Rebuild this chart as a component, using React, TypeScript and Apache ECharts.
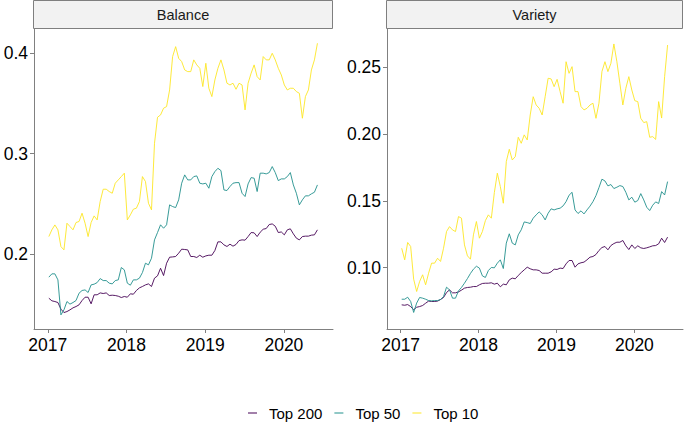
import React, { useEffect, useRef } from "react";
import * as echarts from "echarts";

// Biweekly observation dates starting 2017-01-06
const START = Date.UTC(2017, 0, 6);
const N_POINTS = 90;
const dates: string[] = Array.from({ length: N_POINTS }, (_, i) =>
  new Date(START + i * 14 * 86400000).toISOString().slice(0, 10)
);

const seriesNames = ["Top 200", "Top 50", "Top 10"];
const seriesColors = ["#440154", "#21908C", "#FDE725"];
const facetTitles = ["Balance", "Variety"];
const xTicks = [2017, 2018, 2019, 2020];
const balanceTicks = [0.2, 0.3, 0.4];
const varietyTicks = [0.1, 0.15, 0.2, 0.25];

const balanceTop200 = [
  0.1557, 0.1531, 0.1524, 0.1514, 0.1448, 0.1414, 0.1424, 0.1441, 0.1461, 0.1474,
  0.1491, 0.1534, 0.1567, 0.1567, 0.1501, 0.1591, 0.1591, 0.161, 0.1604, 0.161,
  0.1584, 0.1587, 0.1584, 0.1577, 0.1564, 0.1574, 0.1567, 0.1601, 0.1597, 0.1634,
  0.166, 0.1674, 0.169, 0.17, 0.1674, 0.1757, 0.178, 0.1856, 0.1783, 0.1906,
  0.1966, 0.1969, 0.1973, 0.2006, 0.2046, 0.2043, 0.2039, 0.1973, 0.1973, 0.1963,
  0.1986, 0.1966, 0.1979, 0.1986, 0.1986, 0.2033, 0.2119, 0.2119, 0.2089, 0.2073,
  0.2096, 0.2076, 0.2093, 0.2132, 0.2139, 0.2136, 0.2172, 0.2212, 0.2209, 0.2172,
  0.2215, 0.2245, 0.2252, 0.2292, 0.2298, 0.2275, 0.2212, 0.2218, 0.2189, 0.2239,
  0.2249, 0.2199, 0.2156, 0.2139, 0.2172, 0.2176, 0.2176, 0.2186, 0.2189, 0.2239,
];
const balanceTop50 = [
  0.1767, 0.18, 0.18, 0.174, 0.1391, 0.1441, 0.1524, 0.1498, 0.1514, 0.1534,
  0.1607, 0.1634, 0.164, 0.1614, 0.169, 0.1697, 0.1713, 0.1753, 0.1733, 0.1733,
  0.1707, 0.17, 0.1733, 0.174, 0.1863, 0.184, 0.1707, 0.1687, 0.174, 0.174,
  0.1757, 0.1813, 0.1906, 0.189, 0.1956, 0.2139, 0.2212, 0.2289, 0.2255, 0.2289,
  0.2488, 0.2471, 0.2461, 0.2538, 0.2704, 0.2787, 0.2737, 0.2737, 0.277, 0.2777,
  0.2704, 0.2697, 0.2704, 0.2654, 0.277, 0.282, 0.2853, 0.283, 0.2637, 0.2631,
  0.2671, 0.2704, 0.271, 0.271, 0.2604, 0.2571, 0.2697, 0.276, 0.2754, 0.2621,
  0.2804, 0.2804, 0.2797, 0.281, 0.287, 0.281, 0.273, 0.2747, 0.2747, 0.277,
  0.281, 0.2687, 0.2604, 0.2488, 0.2538, 0.2578, 0.2578, 0.2598, 0.2614, 0.2687,
];
const balanceTop10 = [
  0.2172, 0.2239, 0.2288, 0.2239, 0.2072, 0.2039, 0.2305, 0.2272, 0.2239, 0.2312,
  0.2322, 0.2405, 0.2305, 0.2172, 0.2312, 0.2378, 0.2338, 0.2521, 0.2644, 0.2644,
  0.2621, 0.2604, 0.2704, 0.2737, 0.277, 0.2804, 0.2338, 0.2388, 0.2445, 0.2455,
  0.2521, 0.277, 0.2721, 0.2504, 0.2438, 0.3103, 0.3362, 0.3385, 0.3452, 0.3468,
  0.3634, 0.3967, 0.4066, 0.395, 0.3917, 0.3834, 0.3817, 0.3817, 0.3934, 0.3884,
  0.385, 0.3668, 0.39, 0.3651, 0.3568, 0.3734, 0.385, 0.3934, 0.3834, 0.3701,
  0.3684, 0.3701, 0.3641, 0.3701, 0.3684, 0.3435, 0.3701, 0.3801, 0.3884, 0.3767,
  0.3734, 0.3967, 0.3934, 0.3934, 0.4, 0.3934, 0.385, 0.3784, 0.3684, 0.3634,
  0.3651, 0.3651, 0.3618, 0.3601, 0.3352, 0.3568, 0.3634, 0.3834, 0.3934, 0.41,
];
const varietyTop200 = [
  0.0721, 0.0718, 0.0723, 0.0708, 0.0684, 0.0703, 0.0708, 0.0716, 0.0733, 0.0749,
  0.0746, 0.0746, 0.0749, 0.0761, 0.0776, 0.0813, 0.0833, 0.0811, 0.0811, 0.0818,
  0.0831, 0.0846, 0.0851, 0.0853, 0.0858, 0.0858, 0.0871, 0.0881, 0.0883, 0.0883,
  0.0886, 0.0876, 0.0883, 0.0856, 0.0876, 0.0871, 0.0908, 0.0921, 0.0916, 0.0941,
  0.0963, 0.0983, 0.1003, 0.0991, 0.0983, 0.0983, 0.0978, 0.0958, 0.0958, 0.0958,
  0.0968, 0.0988, 0.0986, 0.0996, 0.0993, 0.1028, 0.1053, 0.1053, 0.1003, 0.1028,
  0.1036, 0.1041, 0.1058, 0.1078, 0.1083, 0.1098, 0.1128, 0.115, 0.1158, 0.1133,
  0.1165, 0.118, 0.119, 0.119, 0.1203, 0.1163, 0.1135, 0.117, 0.1143, 0.1163,
  0.1148, 0.1143, 0.1148, 0.1155, 0.1163, 0.1165, 0.1178, 0.122, 0.1188, 0.1228,
];
const varietyTop50 = [
  0.0763, 0.0763, 0.0778, 0.0746, 0.0664, 0.0734, 0.0776, 0.0771, 0.0763, 0.0753,
  0.0751, 0.0753, 0.0753, 0.0761, 0.0783, 0.0853, 0.0833, 0.0771, 0.0771, 0.0826,
  0.0851, 0.0883, 0.0918, 0.0956, 0.0988, 0.101, 0.0996, 0.0938, 0.0926, 0.0978,
  0.1001, 0.0998, 0.1033, 0.1058, 0.0993, 0.1183, 0.1253, 0.1183, 0.117, 0.1245,
  0.1283, 0.1342, 0.1337, 0.133, 0.137, 0.1395, 0.1417, 0.1395, 0.1357, 0.1407,
  0.144, 0.1432, 0.144, 0.1445, 0.1462, 0.1494, 0.1542, 0.1564, 0.1432, 0.1405,
  0.1425, 0.1402, 0.1432, 0.146, 0.1494, 0.1539, 0.1599, 0.1662, 0.1649, 0.1612,
  0.1622, 0.1592, 0.1602, 0.1614, 0.1607, 0.1564, 0.1507, 0.1527, 0.149, 0.1502,
  0.1554, 0.1507, 0.1452, 0.1427, 0.1467, 0.1492, 0.148, 0.1569, 0.1544, 0.1644,
];
const varietyTop10 = [
  0.1145, 0.1058, 0.1188, 0.1158, 0.0913, 0.0821, 0.0896, 0.0946, 0.0871, 0.0958,
  0.1033, 0.1033, 0.107, 0.1046, 0.1145, 0.127, 0.1307, 0.1282, 0.127, 0.1382,
  0.137, 0.117, 0.1088, 0.1063, 0.1245, 0.1345, 0.122, 0.127, 0.1352, 0.1395,
  0.137, 0.1562, 0.1707, 0.1607, 0.1482, 0.1794, 0.1886, 0.1806, 0.1831, 0.1976,
  0.1931, 0.1994, 0.1956, 0.2143, 0.228, 0.2218, 0.2193, 0.2143, 0.228, 0.2418,
  0.2413, 0.2355, 0.241, 0.2318, 0.2231, 0.2542, 0.2455, 0.2505, 0.2318, 0.2318,
  0.2206, 0.2181, 0.2193, 0.2218, 0.2231, 0.2118, 0.2231, 0.2468, 0.2542, 0.2468,
  0.253, 0.2675, 0.2542, 0.238, 0.2218, 0.2343, 0.243, 0.233, 0.225, 0.2243,
  0.2118, 0.2086, 0.2093, 0.1976, 0.1981, 0.196, 0.2243, 0.212, 0.243, 0.2667,
];

function toDecimalYear(d: string): number {
  const ms = Date.parse(d + "T00:00:00Z");
  const y = new Date(ms).getUTCFullYear();
  const s = Date.UTC(y, 0, 1);
  const e = Date.UTC(y + 1, 0, 1);
  return y + (ms - s) / (e - s);
}

const FONT = "Liberation Sans, Arial, Helvetica, sans-serif";
const AXIS_COLOR = "#808080";

export default function App() {
  const ref = useRef<HTMLDivElement>(null);
  useEffect(() => {
    if (!ref.current) return;
    const chart = echarts.init(ref.current, null, { renderer: "svg" });
    const xs = dates.map(toDecimalYear);
    const pair = (vals: number[]) => vals.map((v, i) => [xs[i], v]);

    const panels = [
      { left: 34, width: 299, vals: [balanceTop200, balanceTop50, balanceTop10] },
      { left: 387, width: 296, vals: [varietyTop200, varietyTop50, varietyTop10] },
    ];

    const xAxisBase = (gi: number) => ({
      type: "value",
      gridIndex: gi,
      min: 2016.825,
      max: 2020.624,
      axisLine: { show: true, onZero: false, lineStyle: { color: AXIS_COLOR, width: 1 } },
      axisTick: { show: true, length: 4, customValues: xTicks, lineStyle: { color: AXIS_COLOR, width: 1 } },
      axisLabel: {
        customValues: xTicks,
        color: "#000",
        fontSize: 17.5,
        fontFamily: FONT,
        margin: 7,
        formatter: (v: number) => String(Math.round(v)),
      },
      splitLine: { show: false },
    });

    const series: any[] = [];
    panels.forEach((p, gi) => {
      p.vals.forEach((vals, si) => {
        series.push({
          type: "line",
          name: seriesNames[si],
          xAxisIndex: gi,
          yAxisIndex: gi,
          data: pair(vals),
          showSymbol: false,
          symbol: "none",
          color: seriesColors[si],
          lineStyle: { width: 0.9, color: seriesColors[si] },
          silent: true,
        });
      });
    });

    const graphic: any[] = [];
    panels.forEach((p, gi) => {
      graphic.push({
        type: "rect",
        shape: { x: p.left - 0.5, y: 0.5, width: p.width, height: 28 },
        style: { fill: "#F2F2F2", stroke: "#7f7f7f", lineWidth: 1 },
      });
      graphic.push({
        type: "text",
        x: p.left - 0.5 + p.width / 2,
        y: 15,
        style: {
          text: facetTitles[gi],
          align: "center",
          verticalAlign: "middle",
          font: `14.5px ${FONT}`,
          fill: "#1a1a1a",
        },
      });
    });

    chart.setOption({
      animation: false,
      textStyle: { fontFamily: FONT },
      grid: panels.map((p) => ({
        left: p.left,
        top: 29,
        width: p.width,
        height: 300,
        outerBoundsMode: "none",
        containLabel: false,
      })),
      xAxis: [xAxisBase(0), xAxisBase(1)],
      yAxis: [
        {
          type: "value",
          gridIndex: 0,
          min: 0.125,
          max: 0.4242,
          axisLine: { show: true, onZero: false, lineStyle: { color: AXIS_COLOR, width: 1 } },
          axisTick: { show: true, length: 4, customValues: balanceTicks, lineStyle: { color: AXIS_COLOR, width: 1 } },
          axisLabel: {
            customValues: balanceTicks,
            color: "#000",
            fontSize: 17.5,
            fontFamily: FONT,
            margin: 6,
            formatter: (v: number) => v.toFixed(1),
          },
          splitLine: { show: false },
        },
        {
          type: "value",
          gridIndex: 1,
          min: 0.054,
          max: 0.2787,
          axisLine: { show: true, onZero: false, lineStyle: { color: AXIS_COLOR, width: 1 } },
          axisTick: { show: true, length: 4, customValues: varietyTicks, lineStyle: { color: AXIS_COLOR, width: 1 } },
          axisLabel: {
            customValues: varietyTicks,
            color: "#000",
            fontSize: 17.5,
            fontFamily: FONT,
            margin: 6,
            formatter: (v: number) => v.toFixed(2),
          },
          splitLine: { show: false },
        },
      ],
      legend: {
        data: seriesNames.map((n, i) => ({ name: n, itemStyle: { color: seriesColors[i] } })),
        left: 248,
        top: 404,
        padding: 0,
        icon: "rect",
        itemWidth: 9,
        itemHeight: 1,
        itemGap: 12,
        selectedMode: false,
        textStyle: { fontSize: 15, color: "#000", fontFamily: FONT, padding: [0, 0, 0, 7], lineHeight: 18 },
      },
      graphic,
      series,
    });
    return () => chart.dispose();
  }, []);

  return (
    <div
      ref={ref}
      style={{ position: "fixed", left: 0, top: 0, width: 685, height: 422, background: "#fff" }}
    />
  );
}
